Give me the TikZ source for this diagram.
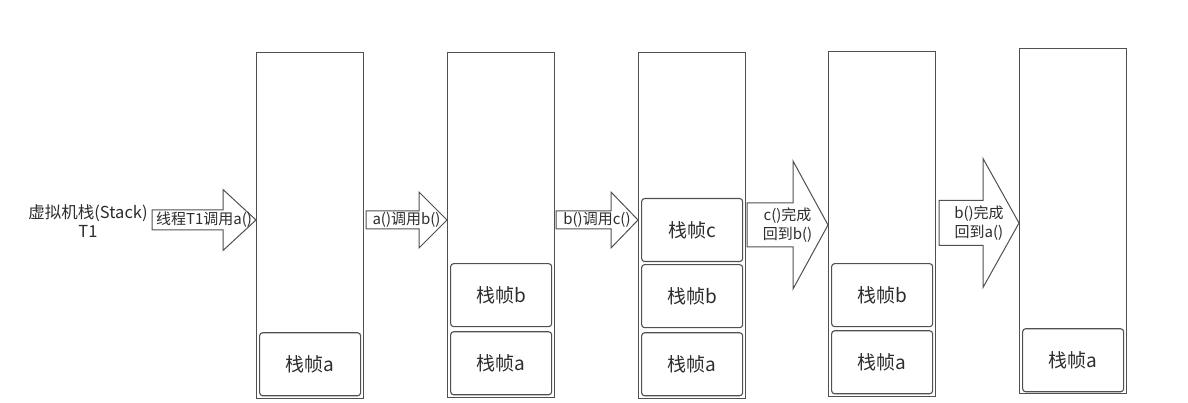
\documentclass[tikz,border=0pt]{standalone}
\usepackage{fontspec}
\setmainfont{Noto Sans CJK SC}
\usepackage{tikz}
\usetikzlibrary{positioning,calc}
\usepackage{xcolor}
\definecolor{stkline}{RGB}{80,80,80}
\definecolor{stktext}{RGB}{45,45,45}
\tikzstyle{stack} = [rectangle, anchor=north west, minimum width=107pt, inner sep=0pt, draw=stkline, line width=1.3pt, fill=white]
\tikzstyle{frame} = [rectangle, rounded corners=3pt, minimum width=101pt, minimum height=63pt, inner sep=0pt, draw=stkline, line width=1.1pt, text=stktext, font=\fontsize{19}{20}\selectfont]
\tikzstyle{blockarrow} = [draw=stkline, line width=1pt, fill=white, line join=miter]
\tikzstyle{arrowtext} = [text=stktext, align=center, inner sep=0pt, font=\fontsize{15}{19}\selectfont]
% from, target stack, shaft half, head half, head length, name, text
\newcommand{\blockarrow}[7]{%
  \draw[blockarrow] let \p1=(#1), \p2=(#2.west) in
    ({\x1},{\y1+#3}) -- ({\x2-#5},{\y1+#3}) -- ({\x2-#5},{\y1+#4}) -- ({\x2},{\y1})
    -- ({\x2-#5},{\y1-#4}) -- ({\x2-#5},{\y1-#3}) -- ({\x1},{\y1-#3}) -- cycle
    ({(\x1+\x2)/2},{\y1}) node[arrowtext] (#6) {#7};}

\begin{document}
\begin{tikzpicture}[x=1pt, y=-1pt]
\useasboundingbox[fill=white] (0,0) rectangle (1188,403);

% Thread label
\node[text=stktext, align=center, font=\fontsize{16.5}{19}\selectfont] (vm) at (88,221) {虚拟机栈(Stack)\\T1};

% Stack 1
\node[stack, minimum height=346pt] (s1) at (256,52) {};
\node[frame, above=3pt of s1.south] (f1a) {栈帧a};

% Stack 2
\node[stack, minimum height=345pt] (s2) at (447,52) {};
\node[frame, above=3pt of s2.south] (f2a) {栈帧a};
\node[frame, above=4pt of f2a] (f2b) {栈帧b};

% Stack 3
\node[stack, minimum height=346pt] (s3) at (638,52) {};
\node[frame, above=3pt of s3.south] (f3a) {栈帧a};
\node[frame, above=4pt of f3a] (f3b) {栈帧b};
\node[frame, above=2pt of f3b] (f3c) {栈帧c};

% Stack 4
\node[stack, minimum height=345pt] (s4) at (828,51) {};
\node[frame, above=3pt of s4.south] (f4a) {栈帧a};
\node[frame, above=3pt of f4a] (f4b) {栈帧b};

% Stack 5
\node[stack, minimum height=345pt] (s5) at (1019,48) {};
\node[frame, above=2pt of s5.south] (f5a) {栈帧a};

% Calls and returns
\coordinate (c1) at (152,220);
\coordinate (c2) at (366,220);
\coordinate (c3) at (556,220);
\coordinate (c4) at (747,225);
\coordinate (c5) at (939,223);
\blockarrow{c1}{s1}{10pt}{30.5pt}{33pt}{t1}{线程T1调用a()}
\blockarrow{c2}{s2}{9pt}{28pt}{28pt}{t2}{a()调用b()}
\blockarrow{c3}{s3}{9pt}{28pt}{27pt}{t3}{b()调用c()}
\blockarrow{c4}{s4}{22pt}{64pt}{35pt}{t4}{c()完成\\回到b()}
\blockarrow{c5}{s5}{22.5pt}{64.5pt}{36pt}{t5}{b()完成\\回到a()}
\end{tikzpicture}
\end{document}
